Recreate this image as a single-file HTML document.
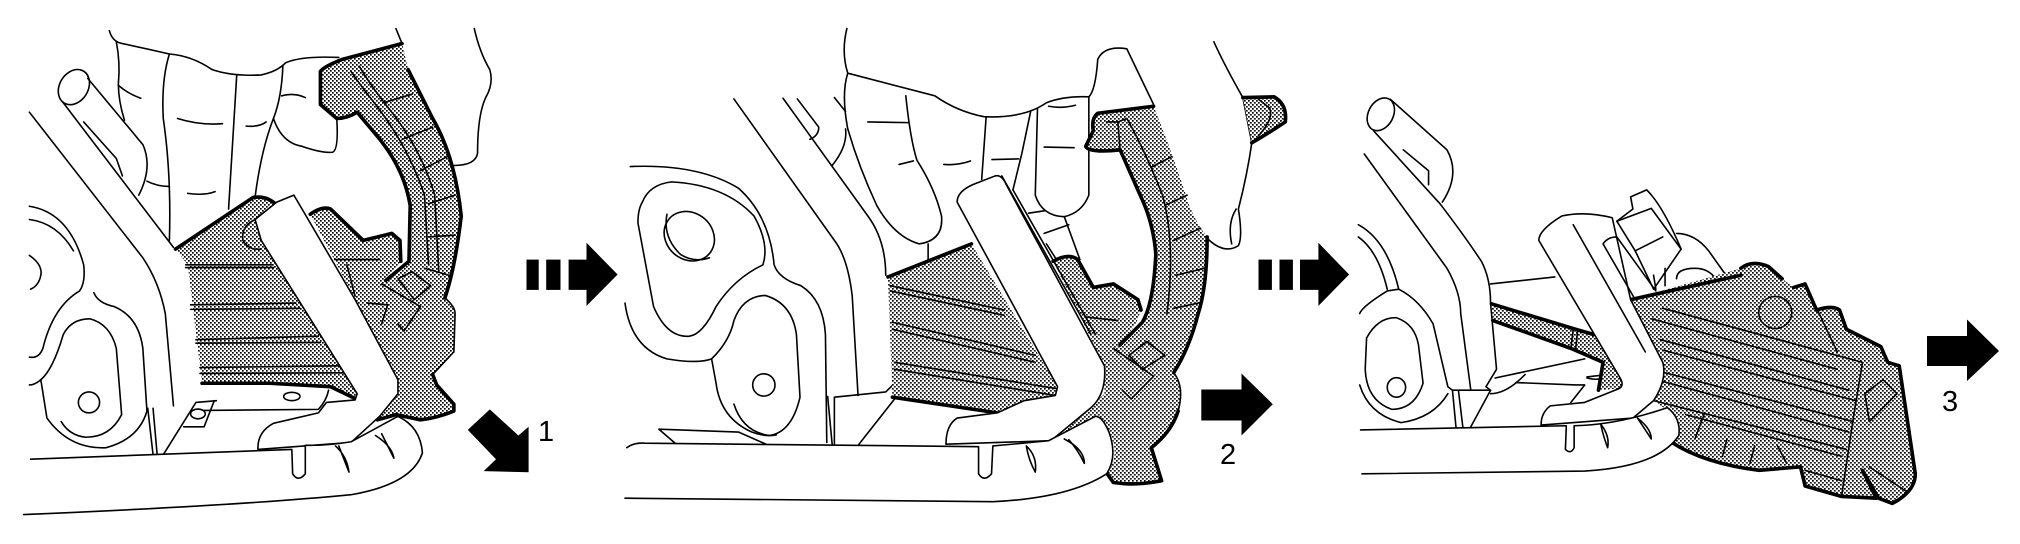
<!DOCTYPE html>
<html lang="en">
<head>
<meta charset="utf-8">
<title>Removal steps diagram</title>
<style>
html,body{margin:0;padding:0;background:#fff}
svg{display:block}
path,ellipse{fill:none;stroke:#000;stroke-width:1.6;vector-effect:non-scaling-stroke;stroke-linejoin:round;stroke-linecap:round}
.w{fill:#fff}
.n{stroke:none}
.t{stroke-width:3.6}
text{font-family:"Liberation Sans",sans-serif;font-size:29px;fill:#000}
</style>
</head>
<body>
<svg xmlns="http://www.w3.org/2000/svg" width="2020" height="544" viewBox="0 0 2020 544">
<defs>
<pattern id="p1" width="4" height="4" patternUnits="userSpaceOnUse" patternTransform="scale(2.45,2.87)"><rect width="4" height="4" fill="#fff"/><rect width="1.7" height="1.7"/><rect x="2" y="2" width="1.7" height="1.7"/></pattern>
<pattern id="p2" width="4" height="4" patternUnits="userSpaceOnUse" patternTransform="scale(2.24,2.87)"><rect width="4" height="4" fill="#fff"/><rect width="1.7" height="1.7"/><rect x="2" y="2" width="1.7" height="1.7"/></pattern>
<pattern id="p3" width="4" height="4" patternUnits="userSpaceOnUse" patternTransform="scale(2.178,2.87)"><rect width="4" height="4" fill="#fff"/><rect width="1.7" height="1.7"/><rect x="2" y="2" width="1.7" height="1.7"/></pattern>
</defs>
<rect width="2020" height="544" fill="#fff"/>

<!-- PANEL 1 -->
<g transform="scale(0.40816,0.3484)">
<path d="M268,88Q275,120 300,125Q360,140 415,155Q470,160 520,200Q570,220 640,215Q680,205 700,180Q740,160 830,165"/>
<path d="M285,120Q295,180 290,240Q290,290 305,345"/>
<path d="M215,225L350,415Q375,480 340,560"/>
<path d="M155,295L425,710"/>
<path d="M205,350L285,455L300,505"/>
<ellipse cx="181" cy="250" rx="36" ry="52" transform="rotate(20 181 250)"/>
<path d="M72,322L350,740Q390,810 405,900L425,1165"/>
<path d="M415,155Q395,230 400,340Q420,500 415,690"/>
<path d="M580,215L560,600"/>
<path d="M693,190Q690,280 670,340Q640,430 625,565"/>
<path d="M690,275Q720,265 748,280M670,340Q690,410 740,420Q790,440 815,437Q830,430 825,340"/>
<path d="M435,340Q490,360 545,355M603,362Q635,365 652,350M460,555Q500,562 527,550M290,245Q315,270 345,282M360,520Q385,535 415,535"/>
<path d="M970,82L985,125M1162,82Q1175,150 1200,200Q1210,240 1190,280Q1170,330 1170,440Q1165,475 1112,475"/>
<path d="M72,592Q170,610 205,760Q210,810 195,835Q130,880 105,1000Q95,1030 72,1025"/>
<path d="M72,630Q140,640 180,720M72,733Q105,760 100,790Q95,820 75,830"/>
<path d="M230,840Q240,870 280,880Q340,910 350,1000L360,1180Q340,1260 260,1285Q170,1290 115,1200L100,1090Q85,1105 72,1105"/>
<path d="M100,1090Q130,1060 155,960Q175,915 220,915Q270,930 285,1000L298,1190Q270,1255 210,1255Q170,1250 150,1210"/>
<ellipse cx="218" cy="1155" rx="26" ry="30"/>
<path d="M375,1172L385,1305M362,1172L375,1305M400,1305L480,1155L530,1150M500,1178L780,1175Q800,1150 805,1120"/>
<path d="M450,1225L500,1225L525,1150"/>
<ellipse cx="715" cy="1138" rx="20" ry="12"/>
<ellipse cx="485" cy="1188" rx="18" ry="14"/>

<path class="n" style="fill:url(#p1)" d="M430,715L620,567Q650,560 680,590L880,1145L810,1110L660,1100L495,1100L460,760Z"/>
<path class="n" style="fill:url(#p1)" d="M985,125L840,170Q795,190 785,205L785,300L825,340Q850,340 875,322L920,385Q990,480 1005,590L1002,750L945,805L935,810L1010,880L1090,855Q1115,770 1130,620Q1115,450 1060,340L1000,200Z"/>
<path class="n" style="fill:url(#p1)" d="M760,615Q790,590 810,600L890,690L960,670L980,690L982,750L945,805L1090,855Q1115,880 1115,900L1112,1010L1060,1075L1070,1105L1112,1160L1112,1180Q1070,1200 1030,1205L970,1190L925,1205L975,1130L975,1090Z"/>
<path d="M455,760L665,760M455,768L670,768M467,875L725,870M467,888L735,885M480,975L780,965M480,985L785,983M490,1055L830,1050M490,1072L845,1070"/>
<path d="M625,630Q590,650 595,690Q610,720 640,715"/>
<path d="M860,205Q880,240 920,300Q1000,420 1040,560L1050,760M880,190Q905,240 945,300Q1030,420 1065,560L1075,780"/>
<path d="M940,295L1010,270M985,400L1060,365M1030,490L1095,450M1050,585L1115,560M1050,680L1115,675M1040,770L1100,790"/>
<path d="M975,800L1010,780L1055,820L1015,860ZM935,815L1030,880L990,950L975,930M820,745L930,745M850,760L870,850M900,870L950,875L935,930"/>
<path class="t" d="M430,715L620,567Q650,560 675,585"/>
<path class="t" d="M495,1100L660,1100L810,1110L872,1145"/>
<path class="t" d="M985,125L840,170Q795,190 785,205L785,300L825,340Q850,340 875,322L920,385Q990,480 1005,590L1002,750L945,805"/>
<path class="t" d="M1000,200L1060,340Q1115,450 1130,620Q1115,770 1090,855"/>
<path class="t" d="M760,615Q790,590 810,600L890,690L960,670L980,690L982,750"/>
<path class="t" d="M1060,1075L1070,1105L1112,1160L1112,1180Q1070,1200 1030,1205L970,1190L925,1205"/>
<path d="M1090,855Q1115,880 1115,900L1112,1010L1060,1075"/>

<path class="w" d="M625,630L678,580L720,560L745,610L870,860L975,1090L975,1130L930,1195L860,1270L632,1290Q630,1240 670,1215L780,1185L800,1155L870,1148L875,1130L640,690Z"/>
<path class="w" d="M75,1318L715,1290L717,1360Q730,1385 748,1360L748,1278Q800,1280 860,1268Q920,1230 975,1195Q1030,1225 1035,1300Q1010,1390 860,1420Q600,1450 58,1477"/>
<path d="M822,1280Q850,1310 855,1355Q840,1310 830,1280M920,1250Q960,1280 965,1315Q950,1280 935,1245"/>
</g>
<polygon points="467.8,429.9 489.8,409.4 518.4,435.5 528.6,426.8 528.6,472.2 483.7,471.1 496,459.3"/>
<rect x="526.5" y="259.6" width="12.2" height="30.3"/>
<rect x="546.2" y="259.6" width="14.3" height="30.3"/>
<polygon points="568.6,259.6 586.5,259.6 586.5,242.8 617.6,274.5 586.5,305.9 586.5,289.9 568.6,289.9"/>
<text x="538" y="441">1</text>

<!-- PANEL 2 -->
<g transform="translate(600,0) scale(0.44643,0.3484)">
<path d="M553,82Q540,150 555,210L750,275Q800,320 860,335Q950,340 1000,295Q1040,275 1095,278Q1110,260 1115,170Q1130,130 1180,140L1240,300"/>
<path d="M555,210Q540,270 555,370Q580,480 620,590Q660,680 715,700Q770,690 765,620Q750,540 710,460Q695,400 685,275"/>
<path d="M600,350L690,352M670,472L702,462M770,472Q800,475 830,462M878,458L938,456M1005,305Q1035,312 1065,302M995,422L1062,424"/>
<path d="M865,335L855,515M965,318L945,440L925,545M980,310L975,560Q990,620 1040,622Q1080,610 1095,560L1095,278"/>
<path d="M1040,622L1075,745M960,612L995,605M995,670L1050,645M1000,700L1025,750M735,700L735,750"/>
<path d="M1375,120Q1400,190 1440,280L1460,410Q1450,500 1430,600Q1440,680 1430,705Q1400,730 1365,690L1340,655"/>
<path d="M1425,600Q1405,640 1415,700"/>
<path d="M300,284L525,690Q555,740 565,850L578,1135"/>
<path d="M410,282L600,620Q640,690 640,790"/>
<path d="M442,284L490,365Q490,390 470,400M525,280L550,320M520,475Q555,420 550,370"/>
<path d="M68,478Q220,470 310,540Q380,620 390,760Q400,800 450,820Q500,860 505,960L508,1270"/>
<path d="M525,1275L525,1140L640,1125L660,1100M510,1138L520,1275M580,1275L660,1145"/>
<path d="M56,870Q70,1000 150,1030Q220,1045 250,1030Q290,980 300,920Q320,850 370,848Q430,870 440,960L448,1140Q430,1240 380,1250Q320,1240 300,1160"/>
<path d="M95,580Q110,530 160,522Q280,530 345,620Q380,700 365,760Q300,800 260,880Q230,960 200,965Q150,970 120,880L85,640Q85,600 95,580Z"/>
<ellipse cx="200" cy="678" rx="55" ry="72" transform="rotate(-15 200 678)"/>
<path d="M150,615Q140,680 180,730Q210,755 245,740"/>
<path d="M250,1030L260,1100Q270,1200 340,1240Q370,1255 395,1248"/>
<ellipse cx="367" cy="1105" rx="25" ry="32"/>
<path d="M132,1232L310,1240L372,1275M132,1232L168,1272"/>

<path class="n" style="fill:url(#p2)" d="M645,795L832,700L1030,1120L1020,1135L950,1150L890,1185L655,1140Z"/>
<path class="n" style="fill:url(#p2)" d="M1240,305L1115,325Q1100,340 1105,375L1088,420Q1095,440 1165,430L1210,560Q1240,640 1245,730Q1240,870 1215,925L1165,990L1150,1000L1240,1080L1285,1070Q1320,1000 1340,900Q1360,820 1360,680Q1335,640 1320,590Q1280,430 1240,305Z"/>
<path class="n" style="fill:url(#p2)" d="M1015,750Q1050,725 1070,745L1105,825L1150,815L1205,860L1212,890L1200,930L1165,990L1285,1070Q1310,1110 1295,1180Q1280,1240 1235,1285L1258,1380Q1200,1395 1150,1385L1135,1358Q1160,1320 1150,1270Q1130,1210 1110,1195L1000,1270L1130,1130L1130,1050Z"/>
<path class="n" style="fill:url(#p2)" d="M1440,280L1510,278Q1540,300 1535,350L1460,410Z"/>
<path d="M650,820L905,890M650,835L905,905M655,925L975,1020M655,945L975,1040M660,1040L1020,1115M660,1060L1020,1135"/>
<path d="M1160,350L1180,340Q1220,430 1260,560Q1290,700 1270,900M1135,350L1160,350L1165,430M1235,480L1280,450M1265,590L1315,560M1285,690L1345,655M1290,790L1355,770M1285,885L1340,870"/>
<path d="M1185,1020L1225,980L1265,1020L1215,1060ZM1150,1000L1240,1080L1190,1145L1170,1120M1090,910L1160,920M1100,1205L1060,1240"/>
<path d="M1475,285L1500,310Q1510,340 1475,390"/>
<path class="t" d="M645,795L832,700"/>
<path class="t" d="M655,1140L890,1185"/>
<path class="t" d="M1240,305L1115,325Q1100,340 1105,375L1088,420Q1095,440 1165,430L1210,560Q1240,640 1245,730Q1240,870 1215,925L1165,990"/>
<path class="t" d="M1360,680Q1360,820 1340,900Q1320,1000 1285,1070"/>
<path class="t" d="M1015,750Q1050,725 1070,745L1105,825L1150,815L1205,860L1212,890"/>
<path class="t" d="M1295,1180Q1280,1240 1235,1285L1258,1380Q1200,1395 1150,1385L1135,1358"/>
<path class="t" d="M1440,280L1510,278Q1540,300 1535,350Q1500,380 1460,410"/>
<path d="M1285,1070Q1310,1110 1295,1180"/>

<path class="w" d="M800,580Q800,550 835,530L885,505Q900,500 910,530L1130,1050Q1135,1130 1100,1170L1010,1265L775,1275Q775,1220 800,1200L890,1185L950,1150L1020,1135L1025,1110Z"/>
<path d="M900,505L1100,960M925,545L1110,960"/>
<path class="w" d="M60,1285Q75,1270 100,1272L848,1282L848,1360Q860,1385 877,1360L880,1280Q950,1272 1005,1265L1110,1195Q1125,1195 1140,1240Q1160,1310 1135,1360Q1050,1430 880,1440L56,1430"/>
<path d="M955,1280Q980,1310 975,1355Q960,1320 955,1280M1040,1260Q1085,1290 1085,1330Q1070,1290 1050,1262"/>
</g>
<polygon points="1201.3,389.5 1241.5,389.5 1241.5,373.5 1272.8,404.2 1241.5,435.5 1241.5,420.5 1201.3,420.5"/>
<rect x="1258.5" y="259.6" width="13.4" height="30.3"/>
<rect x="1279.5" y="259.6" width="13.4" height="30.3"/>
<polygon points="1300,259.6 1318.4,259.6 1318.4,242.8 1349.1,274.5 1318.4,305.9 1318.4,289.9 1300,289.9"/>
<text x="1220" y="464">2</text>

<!-- PANEL 3 -->
<g transform="translate(1300,0) scale(0.45918,0.3484)">
<ellipse cx="176" cy="328" rx="28" ry="48" transform="rotate(15 176 328)"/>
<path d="M197,285L320,430Q350,500 310,580"/>
<path d="M160,375L305,585Q360,680 395,750Q415,800 415,870L428,1060L405,1110L415,1120L370,1230"/>
<path d="M225,430L280,490L280,530M140,442L320,770Q350,840 350,900L372,1120"/>
<path d="M127,645Q190,690 215,830L190,835Q135,880 130,900M127,680Q170,720 190,830"/>
<path d="M215,830Q260,860 290,930L322,1110L332,1120M130,1105Q150,1190 220,1213Q290,1200 322,1130"/>
<path d="M145,970Q170,910 210,912Q250,930 258,990L268,1100Q250,1175 200,1175Q145,1150 142,1060Z"/>
<ellipse cx="210" cy="1112" rx="20" ry="28"/>
<path d="M332,1120L415,1120M332,1120L340,1230M345,1120L355,1230"/>
<path d="M415,815L555,795M425,1085L620,1030M415,1130Q450,1130 490,1075M470,1098L600,1105L620,1105L590,1155"/>
<path d="M625,1082L650,1078M625,1085Q640,1090 650,1088"/>
<path class="w" d="M690,635L725,600L720,565L755,545Q790,590 830,715L770,830L730,720Z"/>
<path d="M690,635L765,598L830,715M730,720L790,680M770,790L775,830M795,770L795,820M820,670Q860,670 890,720L925,785M820,800Q820,770 860,770Q890,770 905,800"/>

<path class="n" style="fill:url(#p3)" d="M720,860L960,770Q985,745 1020,765L1050,800L1075,825L1100,815L1125,890Q1160,875 1175,890L1190,945L1265,995L1280,1040L1305,1050L1340,1360Q1340,1410 1290,1445L1260,1430L1225,1350L1255,1430L1180,1425L1100,1395L1090,1340L1000,1350Q880,1330 810,1270L825,1200L770,1150L790,1040Z"/>
<path class="n" style="fill:url(#p3)" d="M417,872L600,945L640,960L705,1100L695,1115L650,1120L660,1040L590,1000L420,920Z"/>
<path d="M790,885L1225,1040M765,915L1170,1060M785,975L1195,1120M790,1005L1210,1150M795,1070L1205,1210M790,1095L1195,1240M770,1150L1190,1290M840,1190L1180,1310M1100,1350L1180,1380"/>
<ellipse cx="1035" cy="897" rx="36" ry="46"/>
<path d="M1100,815L1170,1010M1225,1040L1205,1200L1180,1420M1230,1130L1270,1090L1300,1130L1240,1210ZM1240,1340L1320,1410M880,1190L860,1260M930,1260L920,1310M990,1280L980,1330M1040,1280L1060,1330"/>
<path d="M595,945L590,1000M605,945L600,1005"/>
<path class="t" d="M720,860L960,790"/>
<path class="t" d="M960,770Q985,745 1020,765L1050,800M1075,825L1100,815L1125,890Q1160,875 1175,890L1190,945L1265,995L1280,1040L1305,1050L1340,1360Q1340,1410 1290,1445L1260,1430L1225,1350L1255,1430L1180,1425L1100,1395L1090,1340L1000,1350Q880,1330 810,1270"/>
<path class="t" d="M417,872L600,945L640,960M420,920L590,1000L660,1040L650,1120"/>

<path class="w" d="M520,690Q520,660 570,620Q620,605 680,625L720,860L790,1040Q800,1090 770,1150L725,1200L525,1220Q525,1185 545,1165L620,1155L690,1118Q710,1110 695,1080Z"/>
<path d="M660,700Q670,680 690,680L775,835M660,700L730,860M595,645L752,1010"/>
<path class="w" d="M132,1234L580,1222L578,1290Q590,1305 597,1285L597,1222Q690,1220 800,1170Q830,1200 825,1250Q780,1340 620,1352L135,1360"/>
<path d="M655,1218Q675,1250 670,1285Q660,1250 655,1218M735,1200Q765,1230 765,1260Q750,1230 735,1200"/>
</g>
<polygon points="1927,336 1967,336 1967,319.5 1999,351 1967,381 1967,366 1927,366"/>
<text x="1942" y="411">3</text>
</svg>
</body>
</html>
